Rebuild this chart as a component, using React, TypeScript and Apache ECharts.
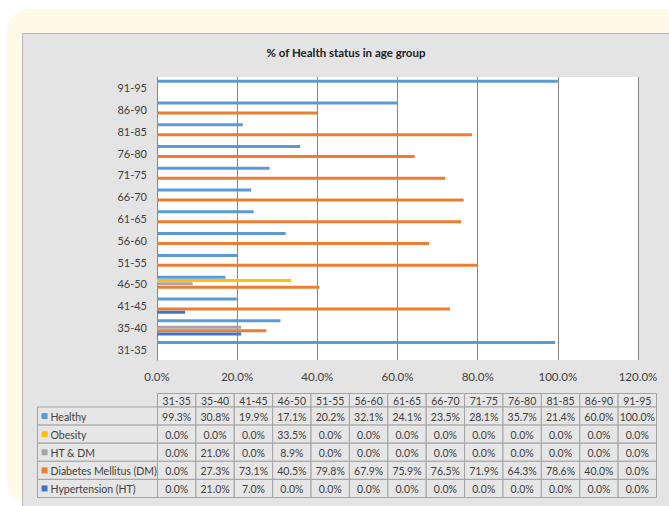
import React, { useEffect, useRef } from 'react';
import * as echarts from 'echarts';

const categories = ['31-35', '35-40', '41-45', '46-50', '51-55', '56-60', '61-65', '66-70', '71-75', '76-80', '81-85', '86-90', '91-95'];
const healthy = [99.3, 30.8, 19.9, 17.1, 20.2, 32.1, 24.1, 23.5, 28.1, 35.7, 21.4, 60.0, 100.0];
const obesity = [0.0, 0.0, 0.0, 33.5, 0.0, 0.0, 0.0, 0.0, 0.0, 0.0, 0.0, 0.0, 0.0];
const htdm = [0.0, 21.0, 0.0, 8.9, 0.0, 0.0, 0.0, 0.0, 0.0, 0.0, 0.0, 0.0, 0.0];
const diabetes = [0.0, 27.3, 73.1, 40.5, 79.8, 67.9, 75.9, 76.5, 71.9, 64.3, 78.6, 40.0, 0.0];
const hypertension = [0.0, 21.0, 7.0, 0.0, 0.0, 0.0, 0.0, 0.0, 0.0, 0.0, 0.0, 0.0, 0.0];
const seriesNames = ['Healthy', 'Obesity', 'HT & DM', 'Diabetes Mellitus (DM)', 'Hypertension (HT)'];
const seriesData = [healthy, obesity, htdm, diabetes, hypertension];
const seriesColors = ['#5b9bd5', '#ffc000', '#a5a5a5', '#ed7d31', '#4472c4'];
const xMin = 0;
const xMax = 120;
const xInterval = 20;
const titleText = '% of Health status in age group';

const FONT = 'Lato, "Noto Sans", sans-serif';
const TEXT_COLOR = '#404040';

export default function App() {
  const ref = useRef<HTMLDivElement>(null);

  useEffect(() => {
    if (!ref.current) return;
    const chart = echarts.init(ref.current, undefined, { renderer: 'svg' });

    // data table layout
    const tableTop = 393.5;
    const headerH = 13.5;
    const rowH = 18.1;
    const legendLeft = 37.5;
    const legendW = 120;
    const colLeft = 157.5;
    const colW = 499 / categories.length;
    const cellFill = '#e6e6e6';
    const cellStroke = '#a3a3a3';

    const tableEls: any[] = [];
    categories.forEach((c, i) => {
      const x = colLeft + i * colW;
      tableEls.push({
        type: 'rect',
        shape: { x, y: tableTop, width: colW, height: headerH },
        style: { fill: cellFill, stroke: cellStroke, lineWidth: 1 },
        z: 5,
      });
      tableEls.push({
        type: 'text',
        x: x + colW / 2,
        y: tableTop + headerH / 2 + 0.5,
        style: { text: c, fill: TEXT_COLOR, font: `10.5px ${FONT}`, align: 'center', verticalAlign: 'middle' },
        z: 6,
      });
    });
    seriesNames.forEach((name, r) => {
      const y = tableTop + headerH + r * rowH;
      tableEls.push({
        type: 'rect',
        shape: { x: legendLeft, y, width: legendW, height: rowH },
        style: { fill: cellFill, stroke: cellStroke, lineWidth: 1 },
        z: 5,
      });
      tableEls.push({
        type: 'rect',
        shape: { x: legendLeft + 4, y: y + rowH / 2 - 3, width: 6, height: 6 },
        style: { fill: seriesColors[r] },
        z: 6,
      });
      tableEls.push({
        type: 'text',
        x: legendLeft + 13,
        y: y + rowH / 2 + 0.5,
        style: { text: name, fill: TEXT_COLOR, font: `10.5px ${FONT}`, align: 'left', verticalAlign: 'middle' },
        z: 6,
      });
      seriesData[r].forEach((v, i) => {
        const x = colLeft + i * colW;
        tableEls.push({
          type: 'rect',
          shape: { x, y, width: colW, height: rowH },
          style: { fill: cellFill, stroke: cellStroke, lineWidth: 1 },
          z: 5,
        });
        tableEls.push({
          type: 'text',
          x: x + colW / 2,
          y: y + rowH / 2 + 0.5,
          style: { text: v.toFixed(1) + '%', fill: TEXT_COLOR, font: `10.5px ${FONT}`, align: 'center', verticalAlign: 'middle' },
          z: 6,
        });
      });
    });

    const option: any = {
      animation: false,
      backgroundColor: '#ffffff',
      textStyle: { fontFamily: FONT },
      graphic: [
        {
          type: 'rect',
          shape: { x: 7, y: 9, width: 700, height: 494, r: 22 },
          style: { fill: '#fffae6' },
          z: -20,
          silent: true,
        },
        {
          type: 'rect',
          shape: { x: 22.5, y: 33.5, width: 660, height: 480 },
          style: { fill: '#e4e4e4', stroke: '#b3b3b3', lineWidth: 1 },
          z: -10,
          silent: true,
        },
        {
          type: 'text',
          x: 346,
          y: 52,
          style: { text: titleText, fill: '#202020', font: `bold 11.5px ${FONT}`, align: 'center', verticalAlign: 'middle' },
          z: 6,
        },
        ...tableEls,
      ],
      grid: {
        left: 157,
        right: 31,
        top: 77,
        bottom: 146,
        show: true,
        backgroundColor: '#ffffff',
        borderWidth: 0,
      },
      xAxis: {
        type: 'value',
        min: xMin,
        max: xMax,
        interval: xInterval,
        axisLine: { show: false },
        axisTick: { show: false },
        splitLine: { show: true, lineStyle: { color: '#868686', width: 1 } },
        axisLabel: {
          margin: 10,
          color: TEXT_COLOR,
          fontSize: 11.5,
          fontFamily: FONT,
          formatter: (v: number) => v.toFixed(1) + '%',
        },
      },
      yAxis: {
        type: 'category',
        data: categories,
        axisLine: { show: true, lineStyle: { color: '#868686', width: 1 } },
        axisTick: { show: false },
        splitLine: { show: false },
        axisLabel: { margin: 10, color: TEXT_COLOR, fontSize: 11, fontFamily: FONT },
      },
      series: seriesNames.map((name, i) => ({
        name,
        type: 'bar',
        data: seriesData[i],
        barWidth: 3,
        barGap: '11%',
        itemStyle: { color: seriesColors[i] },
      })),
    };

    chart.setOption(option);
    return () => chart.dispose();
  }, []);

  return (
    <div
      ref={ref}
      style={{ position: 'absolute', left: 0, top: 0, width: 669, height: 506 }}
    />
  );
}
